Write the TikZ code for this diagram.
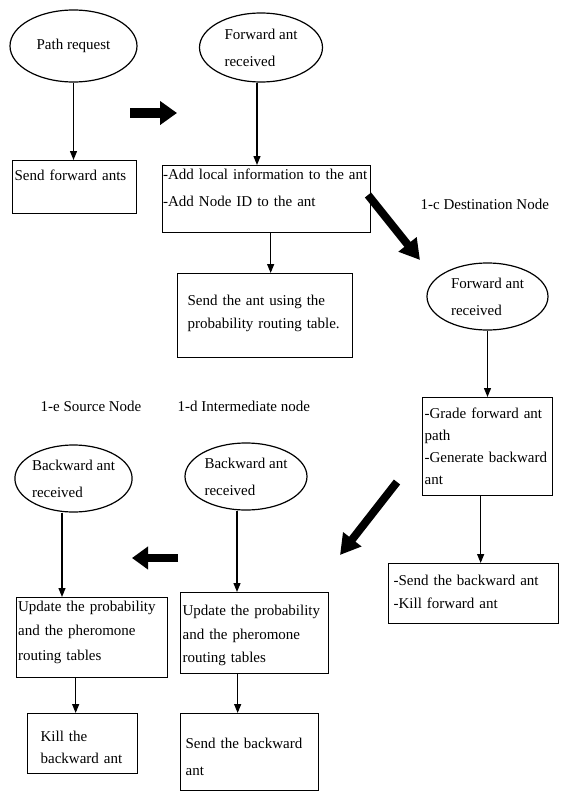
\documentclass[tikz,border=0pt]{standalone}
\usepackage{fontspec}
\setmainfont{Liberation Serif}
\usetikzlibrary{arrows.meta, shapes.geometric, positioning}
\hyphenpenalty=10000
\tikzset{
  event/.style={draw, ellipse, line width=1.2pt, inner sep=0pt, align=left, fontskip=27},
  flowbox/.style={draw, rectangle, line width=1.3pt, anchor=north west, align=left, inner xsep=2pt, inner ysep=0pt},
  fontskip/.style={font=\fontsize{15}{#1}\selectfont},
  bigarrow/.style={line width=8pt, -{Triangle[length=20pt,width=22pt]}},
  caption/.style={anchor=west, inner sep=0pt}
}

\begin{document}
\begin{tikzpicture}[x=1pt, y=-1pt, >={Triangle[length=9pt,width=7pt]}, line width=1.2pt, fontskip=25]
\useasboundingbox (0,0) rectangle (560,792);
\node[event, minimum width=127pt, minimum height=72pt] (e1) at (73.5,46) {Path request};
\node[event, minimum width=123pt, minimum height=69pt] (e2) at (261,47.5) {Forward ant\\received};
\node[event, minimum width=121pt, minimum height=67pt] (e3) at (487.5,296.5) {Forward ant\\received};
\node[event, minimum width=122pt, minimum height=67pt] (e4) at (246,476.5) {Backward ant\\received};
\node[event, minimum width=117pt, minimum height=67pt] (e5) at (73.5,478.5) {Backward ant\\received};
\node[flowbox, text width=120pt, text height=20pt, text depth=33pt] (b1) at (12,160) {Send forward ants};
\node[flowbox, fontskip=27, inner xsep=0.5pt, text width=207pt, text height=14pt, text depth=53pt] (b2) at (162,165) {-Add local information to the ant\\-Add Node ID to the ant};
\node[flowbox, fontskip=23, inner xsep=10pt, text width=155pt, text height=32pt, text depth=52pt] (b3) at (177,273) {Send the ant using the\\probability routing table.};
\node[flowbox, fontskip=22, text width=126pt, text height=21pt, text depth=77pt] (b4) at (422,397) {-Grade forward ant\\path\\-Generate backward\\ant};
\node[flowbox, fontskip=23, inner xsep=5pt, text width=160pt, text height=22pt, text depth=38pt] (b5) at (388,563) {-Send the backward ant\\-Kill forward ant};
\node[flowbox, fontskip=23.5, text width=144pt, text height=23pt, text depth=58pt] (b6) at (180,592) {Update the probability\\and the pheromone\\routing tables};
\node[flowbox, fontskip=27, inner xsep=5pt, text width=128pt, text height=35pt, text depth=42pt] (b7) at (180,713) {Send the backward\\ant};
\node[flowbox, fontskip=24.5, inner xsep=1.5pt, text width=148pt, text height=13.5pt, text depth=66.5pt] (b8) at (16,597) {Update the probability\\and the pheromone\\routing tables};
\node[flowbox, fontskip=22, inner xsep=13pt, text width=84pt, text height=28pt, text depth=32pt] (b9) at (27,713) {Kill the\\backward ant};
\node[caption] (c1) at (420,204) {1-c Destination Node};
\node[caption] (c2) at (40,406) {1-e Source Node};
\node[caption] (c3) at (177,406) {1-d Intermediate node};
\draw [->] (e1.south) -- (e1.south |- b1.north);
\draw [->] ([xshift=-4pt]e2.south) -- ([xshift=-4pt]e2.south |- b2.north);
\draw [->] ([xshift=4pt]b2.south) -- ([xshift=4pt]b2.south |- b3.north);
\draw [->] (e3.south) -- (e3.south |- b4.north);
\draw [->] ([xshift=-7pt]b4.south) -- ([xshift=-7pt]b4.south |- b5.north);
\draw [->] ([xshift=-9pt]e4.south) -- ([xshift=-9pt]e4.south |- b6.north);
\draw [->] ([xshift=-17pt]b6.south) -- ([xshift=-17pt]b6.south |- b7.north);
\draw [->] ([xshift=-11.5pt]e5.south) -- ([xshift=-11.5pt]e5.south |- b8.north);
\draw [->] ([xshift=-16.5pt]b8.south) -- ([xshift=-16.5pt]b8.south |- b9.north);
\coordinate (t1) at (130,113);
\coordinate (h1) at (177,113);
\coordinate (t2) at (368,195);
\coordinate (h2) at (420,260);
\coordinate (t3) at (397,482);
\coordinate (h3) at (340,555);
\coordinate (t4) at (178,558);
\coordinate (h4) at (132,558);
\draw [bigarrow, line width=10pt, -{Triangle[length=17pt,width=23pt]}] (t1) -- (h1);
\draw [bigarrow] (t2) -- (h2);
\draw [bigarrow] (t3) -- (h3);
\draw [bigarrow, -{Triangle[length=16pt,width=22pt]}] (t4) -- (h4);
\end{tikzpicture}
\end{document}
